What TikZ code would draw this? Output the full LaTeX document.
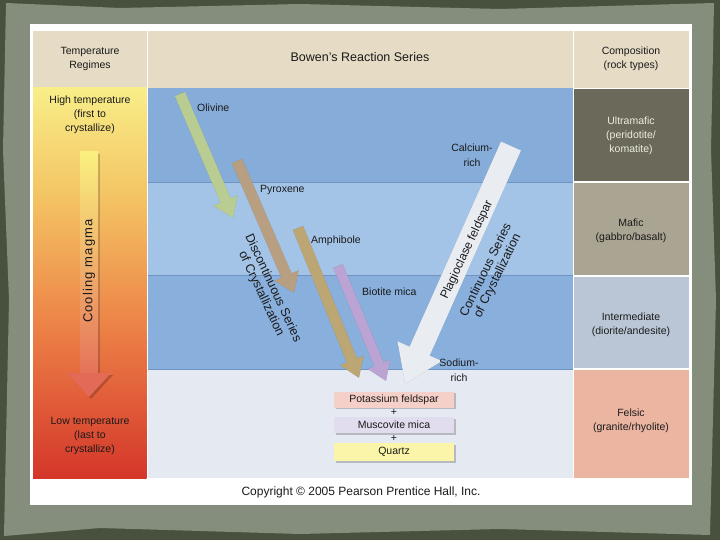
\documentclass[tikz,border=0pt]{standalone}
\usepackage{fontspec}
\setmainfont{Liberation Sans}
\usetikzlibrary{arrows.meta,calc,shadows}
\definecolor{bgdark}{HTML}{48513E}
\definecolor{bgpaper}{HTML}{858E7C}
\definecolor{hdr}{HTML}{E6DCC6}
\definecolor{bandA}{HTML}{86ACD9}
\definecolor{bandB}{HTML}{A3C3E7}
\definecolor{bandC}{HTML}{89AFDC}
\definecolor{bandD}{HTML}{E5E9F1}
\definecolor{bandline}{HTML}{6F94C2}
\definecolor{umafic}{HTML}{6B6A5A}
\definecolor{umtext}{HTML}{ECECE0}
\definecolor{mafic}{HTML}{AAA592}
\definecolor{inter}{HTML}{BAC6D6}
\definecolor{felsic}{HTML}{EBB5A2}
\definecolor{olv}{HTML}{B9CD93}
\definecolor{pyx}{HTML}{B89F82}
\definecolor{amp}{HTML}{BCA673}
\definecolor{bio}{HTML}{BBA3D3}
\definecolor{plag}{HTML}{E9ECF1}
\definecolor{kfs}{HTML}{F5D0C8}
\definecolor{musc}{HTML}{E1DCEE}
\definecolor{qtz}{HTML}{FAF5A9}
\definecolor{txt}{HTML}{1A1A1A}
\definecolor{gA}{HTML}{F8EE88}
\definecolor{gB}{HTML}{F4C262}
\definecolor{gC}{HTML}{EC8046}
\definecolor{gD}{HTML}{D4362A}
\definecolor{coolTop}{HTML}{FAF07E}
\definecolor{coolBot}{HTML}{E5725A}
\definecolor{coolHead}{HTML}{E26A56}
\begin{document}
\begin{tikzpicture}[x=1pt,y=-1pt,
  lbl/.style={font=\fontsize{10.5}{14}\selectfont, align=center, text=txt, inner sep=0pt},
  big/.style={font=\fontsize{12.5}{14}\selectfont, align=center, text=txt, inner sep=0pt},
  serieslbl/.style={font=\fontsize{12.5}{13}\selectfont, align=center, text=txt, inner sep=0pt},
  arr/.style n args={3}{line width=#1, -{Triangle[width=#2,length=#3]}},
  shd/.style={draw=black, opacity=.25},
  minbox/.style={minimum width=120pt, minimum height=16pt, inner sep=0pt,
    font=\fontsize{10.5}{12}\selectfont, text=txt, draw=none,
    drop shadow={shadow xshift=1.5pt, shadow yshift=-1.5pt, opacity=.45}},
]
\useasboundingbox (0,0) rectangle (720,540);
% background
\fill[bgdark] (0,0) rectangle (720,540);
\fill[bgpaper] (6,3) -- (120,8) -- (300,4) -- (500,9) -- (714,3) -- (711,150)
  -- (716,300) -- (710,535) -- (500,529) -- (300,534) -- (100,528) -- (4,536)
  -- (9,300) -- (3,150) -- cycle;
\fill[white] (30,24) rectangle (692,505);
% header
\fill[hdr] (33,31) rectangle (146.5,88);
\fill[hdr] (148,31) rectangle (572.5,88);
\fill[hdr] (574,31) rectangle (689,88);
% left column gradient
\shade[top color=gA, bottom color=gB] (33,88) rectangle (146.5,200.5);
\shade[top color=gB, bottom color=gC] (33,200) rectangle (146.5,330.5);
\shade[top color=gC, bottom color=gD] (33,330) rectangle (146.5,478);
% middle bands
\fill[bandA] (148,88) rectangle (572.5,182);
\fill[bandB] (148,182) rectangle (572.5,275);
\fill[bandC] (148,275) rectangle (572.5,369);
\fill[bandD] (148,369) rectangle (572.5,478);
\draw[bandline] (148,182) -- (572.5,182);
\draw[bandline] (148,275) -- (572.5,275);
\draw[bandline] (148,369) -- (572.5,369);
% right column
\fill[umafic] (574,89) rectangle (689,181);
\fill[mafic] (574,183) rectangle (689,275);
\fill[inter] (574,277) rectangle (689,368);
\fill[felsic] (574,370) rectangle (689,478);
% header texts
\node[lbl] (th1) at (90,59) {Temperature\\Regimes};
\node[big] (th2) at (360,57) {Bowen's Reaction Series};
\node[lbl] (th3) at (631,59) {Composition\\(rock types)};
% left column
\node[lbl] (hi) at (90,115) {High temperature\\(first to\\crystallize)};
\node[lbl] (lo) at (90,436) {Low temperature\\(last to\\crystallize)};
\fill[black, opacity=.2] (82,154) rectangle (100,375);
\fill[black, opacity=.2] (69,375) -- (113,375) -- (91,399) -- cycle;
\shade[top color=coolTop, bottom color=coolBot] (80,152) rectangle (98,373.5);
\fill[coolHead] (67,373) -- (111,373) -- (89,397) -- cycle;
\node[font=\fontsize{13}{14}\selectfont\addfontfeature{LetterSpace=9}, text=txt, rotate=90, inner sep=0pt] (cool) at (89,271) {Cooling magma};
% right column texts
\node[lbl, text=umtext] (um) at (631,136) {Ultramafic\\(peridotite/\\komatite)};
\node[lbl] (ma) at (631,231) {Mafic\\(gabbro/basalt)};
\node[lbl] (in) at (631,325) {Intermediate\\(diorite/andesite)};
\node[lbl] (fe) at (631,421) {Felsic\\(granite/rhyolite)};
% arrow coordinates
\coordinate (ol1) at (180,94);  \coordinate (ol2) at (233,218);
\coordinate (px1) at (237,161); \coordinate (px2) at (294,293);
\coordinate (am1) at (298,228); \coordinate (am2) at (359,378);
\coordinate (bi1) at (338,266); \coordinate (bi2) at (386,381);
\coordinate (pl1) at (511,146); \coordinate (pl2) at (405,384);
% shadows
\begin{scope}[shift={(2.5,2.5)}]
\draw[shd, arr={11pt}{25pt}{19pt}] (ol1) -- (ol2);
\draw[shd, arr={11pt}{25pt}{19pt}] (px1) -- (px2);
\draw[shd, arr={11pt}{24pt}{19pt}] (am1) -- (am2);
\draw[shd, arr={10pt}{23pt}{18pt}] (bi1) -- (bi2);
\draw[shd, arr={22pt}{46pt}{36pt}] (pl1) -- (pl2);
\end{scope}
% arrows
\draw[olv, arr={11pt}{25pt}{19pt}] (ol1) -- (ol2);
\draw[pyx, arr={11pt}{25pt}{19pt}] (px1) -- (px2);
\draw[amp, arr={11pt}{24pt}{19pt}] (am1) -- (am2);
\draw[bio, arr={10pt}{23pt}{18pt}] (bi1) -- (bi2);
\draw[plag, arr={22pt}{46pt}{36pt}] (pl1) -- (pl2);
% mineral labels
\node[lbl, anchor=west] (olv) at (197,108) {Olivine};
\node[lbl, anchor=west] (pyr) at (260,190) {Pyroxene};
\node[lbl, anchor=west] (amph) at (311,241) {Amphibole};
\node[lbl, anchor=west] (biot) at (362,292) {Biotite mica};
\node[lbl, font=\fontsize{10.5}{15}\selectfont] (ca) at (472,155) {Calcium-\\rich};
\node[lbl, font=\fontsize{10.5}{15}\selectfont] (na) at (459,370) {Sodium-\\rich};
\node[serieslbl, rotate=-65] (disc) at (267,291) {Discontinuous Series\\of Crystallization};
\node[serieslbl, rotate=64] (cont) at (492,273) {Continuous Series\\of Crystallization};
\node[serieslbl, rotate=65, font=\fontsize{12}{13}\selectfont] (plg) at (467,250) {Plagioclase feldspar};
% final minerals
\node[minbox, fill=kfs] (kf) at (394,399.5) {Potassium feldspar};
\node[lbl] (p1) at (394,412) {+};
\node[minbox, fill=musc] (mu) at (394,425) {Muscovite mica};
\node[lbl] (p2) at (394,438) {+};
\node[minbox, fill=qtz, minimum height=18pt] (qz) at (394,452) {Quartz};
% copyright
\node[font=\fontsize{12}{14}\selectfont, text=txt, inner sep=0pt] (copy) at (361,492) {Copyright © 2005 Pearson Prentice Hall, Inc.};
\end{tikzpicture}
\end{document}
